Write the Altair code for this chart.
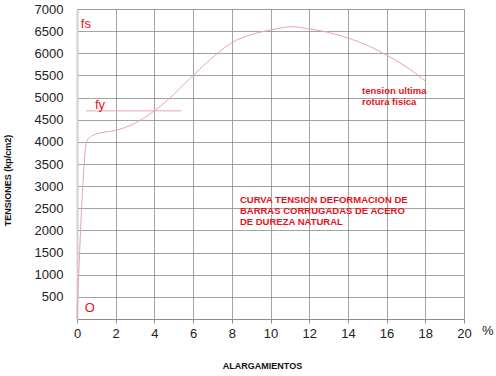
import altair as alt
import pandas as pd

# stress-strain curve
strain = [0, 0.3, 0.45, 0.55, 0.75, 1.2, 2.0, 2.9, 4.0, 4.7, 5.3, 6.0, 7.0, 8.0, 9.0, 10.0, 11.1, 12.0, 13.0, 14.1, 15.0, 16.0, 17.0, 18.0]
stress = [0, 3000, 3900, 4050, 4130, 4200, 4260, 4400, 4700, 4950, 5200, 5500, 5900, 6240, 6420, 6525, 6600, 6550, 6470, 6330, 6180, 5960, 5700, 5375]

# fy line
fy_x = [0.47, 5.4]
fy_y = [4700, 4700]

# labels
lbl_text = ["fs", "fy", "O"]
lbl_x = [0.2, 0.93, 0.4]
lbl_y = [6660, 4830, 250]

note_text = ["tension ultima", "rotura fisica",
             "CURVA TENSION DEFORMACION DE", "BARRAS CORRUGADAS DE ACERO", "DE DUREZA NATURAL"]
note_x = [14.73, 14.73, 8.42, 8.42, 8.42]
note_y = [5150, 4900, 2690, 2440, 2190]

xticks = list(range(0, 21, 2))
yticks = list(range(0, 7001, 500))

curve = pd.DataFrame({"x": strain, "y": stress})
fy = pd.DataFrame({"x": fy_x, "y": fy_y})
lbl = pd.DataFrame({"t": lbl_text, "x": lbl_x, "y": lbl_y})
notes = pd.DataFrame({"t": note_text, "x": note_x, "y": note_y})

FONT = "Liberation Sans"
RED = "#e3131b"
PINK = "#eaa3ab"

xs = alt.Scale(domain=[0, 20], nice=False)
ys = alt.Scale(domain=[0, 7000], nice=False)

xaxis = alt.Axis(values=xticks, grid=True, gridColor="#8c8c8c", gridWidth=0.8,
                 title="ALARGAMIENTOS", titleFont=FONT, titleFontSize=9, titleFontWeight="bold",
                 titleX=185, titleY=46, titleBaseline="middle", titleColor="#111",
                 labelFont=FONT, labelFontSize=13, labelColor="#222", labelPadding=4,
                 labelOverlap=False, labelBound=False,
                 tickSize=4, tickColor="#8c8c8c", domainColor="#8c8c8c", labelFlush=False)
yaxis = alt.Axis(values=yticks, grid=True, gridColor="#8c8c8c", gridWidth=0.8,
                 labelExpr="datum.value == 0 ? '' : datum.label", format="d",
                 title="TENSIONES (kp/cm2)", titleFont=FONT, titleFontSize=9, titleFontWeight="bold",
                 titleX=-70, titleY=171, titleColor="#111", titleBaseline="middle",
                 labelFont=FONT, labelFontSize=13, labelColor="#222", labelPadding=14,
                 labelOverlap=False, labelBound=False, labelFlush=False,
                 tickSize=0, domainColor="#d0d0d0", domainWidth=2)

X = alt.X("x:Q", scale=xs, axis=xaxis)
Y = alt.Y("y:Q", scale=ys, axis=yaxis)

base_line = alt.Chart(curve).mark_line(color=PINK, strokeWidth=1, interpolate="monotone").encode(
    x=X, y=Y)

fy_line = alt.Chart(fy).mark_line(color=PINK, strokeWidth=1).encode(x=X, y=Y)

lbl_layer = alt.Chart(lbl).mark_text(align="left", baseline="middle", font=FONT, fontSize=13,
                                     color=RED).encode(x=X, y=Y, text="t:N")

note_layer = alt.Chart(notes).mark_text(align="left", baseline="middle", font=FONT, fontSize=9.5,
                                        fontWeight="bold", color=RED).encode(x=X, y=Y, text="t:N")

pct = alt.Chart(pd.DataFrame({"t": ["%"]})).mark_text(align="left", baseline="middle", font=FONT,
                                                       fontSize=13, color="#222").encode(
    x=alt.value(405), y=alt.value(322), text="t:N")

chart = alt.layer(base_line, fy_line, lbl_layer, note_layer, pct).properties(
    width=387, height=310,
    autosize=alt.AutoSizeParams(type="none"),
    padding={"left": 77, "top": 9, "right": 32, "bottom": 57},
).configure_view(stroke=None).configure(background="white")

chart.save("out.html", embed_options={"renderer": "svg", "actions": False})
